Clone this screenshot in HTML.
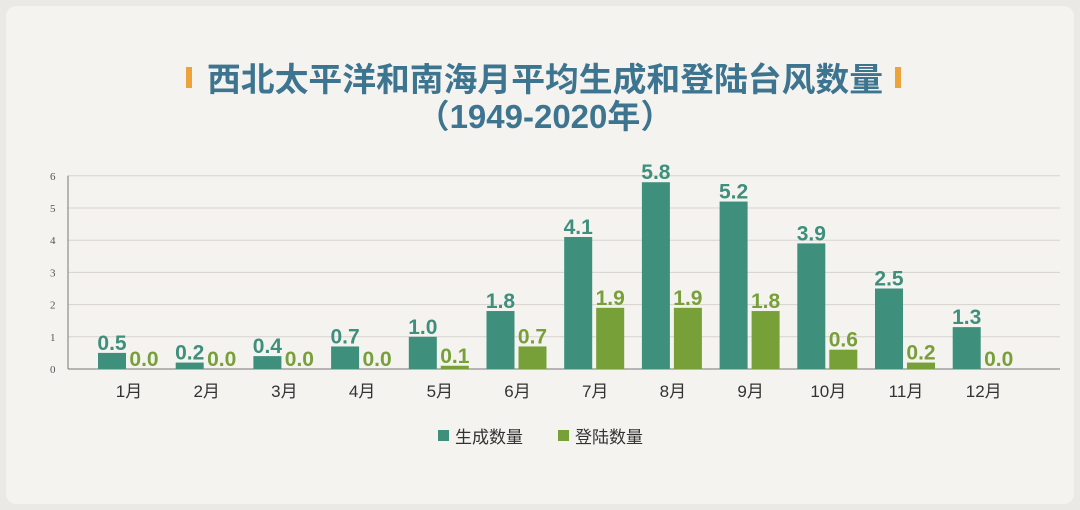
<!DOCTYPE html>
<html><head><meta charset="utf-8">
<style>
body{margin:0;background:#ebe9e6;}
#card{position:absolute;left:6px;top:6px;width:1068px;height:498px;background:#f5f3f0;border-radius:10px;}
svg{position:absolute;left:0;top:0;}
</style></head>
<body>
<div id="card"></div>
<svg id="chart" width="1080" height="510" font-family="Liberation Sans, Noto Sans CJK SC, sans-serif">
<g>
<rect x="186" y="67" width="6" height="21" fill="#eea23a"/>
<rect x="895" y="67" width="6" height="21" fill="#eea23a"/>
<text x="545" y="91" text-anchor="middle" font-size="33" font-weight="bold" fill="#3d7590" textLength="676" lengthAdjust="spacingAndGlyphs">西北太平洋和南海月平均生成和登陆台风数量</text>
<text x="545" y="128" text-anchor="middle" font-size="33" font-weight="bold" fill="#3d7590">（1949-2020年）</text>
</g>
<g id="grid"></g>
<g id="bars"></g>
<g>
<rect x="438" y="430" width="11" height="11" fill="#3e8f7b"/>
<text x="455" y="443" font-size="17" fill="#333">生成数量</text>
<rect x="558" y="430" width="11" height="11" fill="#78a038"/>
<text x="575" y="443" font-size="17" fill="#333">登陆数量</text>
</g>
</svg>
<script>
const months=["1月","2月","3月","4月","5月","6月","7月","8月","9月","10月","11月","12月"];
const formed=[0.5,0.2,0.4,0.7,1.0,1.8,4.1,5.8,5.2,3.9,2.5,1.3];
const landed=[0.0,0.0,0.0,0.0,0.1,0.7,1.9,1.9,1.8,0.6,0.2,0.0];
const yTicks=[0,1,2,3,4,5,6];
const NS="http://www.w3.org/2000/svg";
const x0=68,x1=1060,yb=369,pu=32.2,gw=77.7,bw=28;
const y=v=>yb-v*pu;
const gx=i=>98+gw*i;
function mk(t,a,p){const e=document.createElementNS(NS,t);for(const k in a)e.setAttribute(k,a[k]);p.appendChild(e);return e;}
const grid=document.getElementById('grid'),bars=document.getElementById('bars');
yTicks.forEach(t=>{
 const l=mk('line',{x1:x0,x2:x1,y1:y(t),y2:y(t),stroke:t===0?'#777':'#d6d3cf','stroke-width':1},grid);
 
 
 const tx=mk('text',{x:50,y:y(t)+4,'font-size':11,fill:'#555','font-family':'Liberation Serif, serif'},grid);
 tx.textContent=t;
 
 
});
const ax=mk('line',{x1:x0,x2:x0,y1:y(6),y2:yb,stroke:'#777'},grid);


months.forEach((m,i)=>{
 const b1=mk('rect',{x:gx(i),y:y(formed[i]),width:bw,height:formed[i]*pu,fill:'#3e8f7b'},bars);
 
 
 const b2=mk('rect',{x:gx(i)+bw+4,y:y(landed[i]),width:bw,height:landed[i]*pu,fill:'#78a038'},bars);
 
 
 const t1=mk('text',{x:gx(i)+bw/2,y:y(formed[i])-3,'text-anchor':'middle','font-size':21,'font-weight':'bold',fill:'#3e8f7b'},bars);
 t1.textContent=formed[i].toFixed(1);
 
 
 const t2=mk('text',{x:gx(i)+bw*1.5+4,y:y(landed[i])-3,'text-anchor':'middle','font-size':21,'font-weight':'bold',fill:'#78a038'},bars);
 t2.textContent=landed[i].toFixed(1);
 
 
 const ml=mk('text',{x:gx(i)+bw+3,y:397,'text-anchor':'middle','font-size':17,fill:'#333'},bars);
 ml.textContent=m;
 
 
});
</script>
</body></html>
